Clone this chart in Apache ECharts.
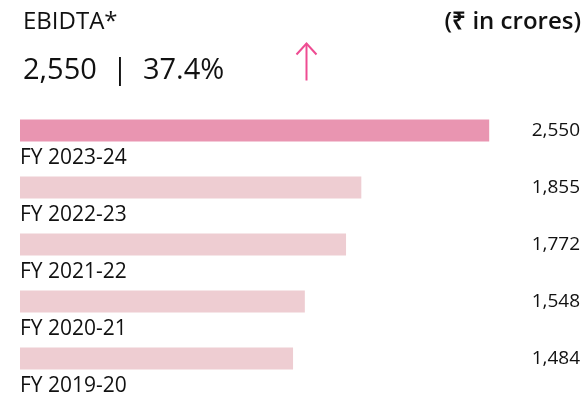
<!DOCTYPE html>
<html>
<head>
<meta charset="utf-8">
<script src="https://cdn.jsdelivr.net/npm/echarts@6/dist/echarts.min.js"></script>
<style>
  html, body { margin: 0; padding: 0; background: #fff; }
  #main { width: 586px; height: 404px; }
</style>
</head>
<body>
<div id="main"></div>
<script>
// data
var years = ['FY 2023-24', 'FY 2022-23', 'FY 2021-22', 'FY 2020-21', 'FY 2019-20'];
var ebitda = [2550, 1855, 1772, 1548, 1484];
var valueLabels = ['2,550', '1,855', '1,772', '1,548', '1,484'];
var barColors = ['#e995b1', '#eecdd2', '#eecdd2', '#eecdd2', '#eecdd2'];

var textColor = '#111';
var font = 'Open Sans';

var myChart = echarts.init(document.getElementById('main'));

var option = {
  animation: false,
  textStyle: { fontFamily: font },
  title: [
    {
      text: 'EBIDTA*',
      left: 18, top: 5,
      textStyle: { fontSize: 24, fontWeight: 'normal', color: textColor, fontFamily: font }
    },
    {
      text: '(₹ in crores)',
      right: 0, top: 5,
      textStyle: { fontSize: 24, fontWeight: 600, color: textColor, fontFamily: font }
    },
    {
      text: '2,550  |  37.4%',
      left: 18, top: 51,
      textStyle: { fontSize: 29, fontWeight: 'normal', color: textColor, fontFamily: font }
    }
  ],
  // up arrow
  graphic: [
    {
      type: 'group',
      left: 294, top: 41,
      children: [
        { type: 'line', shape: { x1: 10, y1: 0, x2: 10, y2: 37 }, style: { stroke: '#ee4c92', lineWidth: 2 } },
        { type: 'polyline', shape: { points: [[0, 11], [10, 0], [20, 11]] }, style: { stroke: '#ee4c92', lineWidth: 2, fill: null } }
      ]
    }
  ],
  grid: {
    left: 20,
    width: 552,
    top: 102,
    height: 285
  },
  xAxis: {
    type: 'value',
    min: 0,
    max: 3000,
    show: false
  },
  yAxis: [
    {
      type: 'category',
      data: years,
      inverse: true,
      axisLine: { show: false },
      axisTick: { show: false },
      axisLabel: {
        inside: true,
        margin: 0,
        align: 'left',
        verticalAlign: 'top',
        padding: [17, 0, 0, 0],
        fontSize: 21,
        color: textColor,
        fontFamily: font
      }
    },
    {
      type: 'category',
      data: valueLabels,
      inverse: true,
      position: 'right',
      axisLine: { show: false },
      axisTick: { show: false },
      axisLabel: {
        align: 'right',
        margin: 8,
        fontSize: 19,
        color: textColor,
        fontFamily: font
      }
    }
  ],
  series: [{
    type: 'bar',
    barWidth: 22,
    data: ebitda.map(function (v, i) {
      return { value: v, itemStyle: { color: barColors[i] } };
    })
  }]
};

myChart.setOption(option);
</script>
</body>
</html>
